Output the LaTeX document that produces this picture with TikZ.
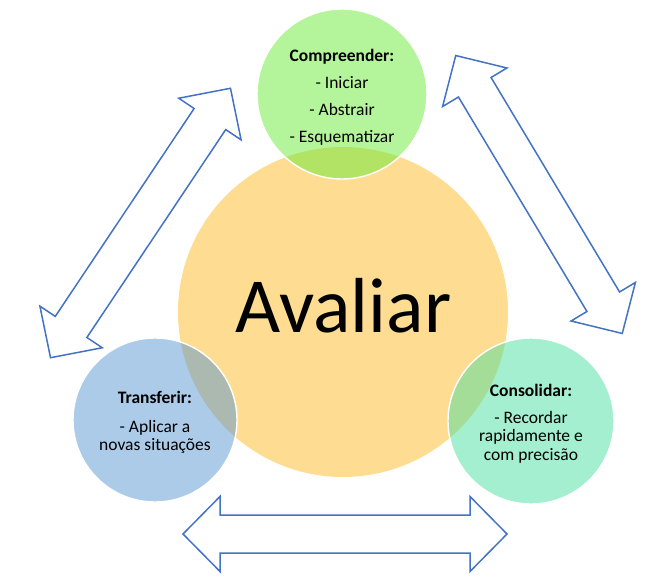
\documentclass[tikz,border=0pt]{standalone}
\usepackage{fontspec}
\setmainfont{Carlito}
\definecolor{orangefill}{RGB}{254,220,146}
\definecolor{greenbase}{RGB}{105,235,55}
\definecolor{bluebase}{RGB}{89,151,209}
\definecolor{tealbase}{RGB}{73,223,159}
\definecolor{arrowblue}{RGB}{68,114,196}
\tikzset{
  smallcirc/.style={circle, draw=white, line width=1.4pt, fill opacity=0.5, draw opacity=1, text opacity=1,
    align=center, inner sep=0pt, font=\fontsize{17.5}{18}\selectfont},
  blockarrow/.style={draw=arrowblue, fill=white, line width=1.5pt, line join=miter},
  pics/dblarrow/.style={code={
    \path[blockarrow] (-162,0) -- (-125,37.5) -- (-125,19) -- (125,19) -- (125,37.5) -- (162,0)
      -- (125,-37.5) -- (125,-19) -- (-125,-19) -- (-125,-37.5) -- cycle;
  }}
}
\begin{document}
\begin{tikzpicture}[x=1pt,y=1pt]
\useasboundingbox (0,0) rectangle (648,579);
% central circle
\node[circle, fill=orangefill, minimum size=330pt, inner sep=0pt] (aval) at (343,267) {};
\node[anchor=base, font=\fontsize{78}{80}\selectfont] (avaltext) at (343.5,246) {Avaliar};
% small circles
\node[smallcirc, fill=greenbase, minimum size=170pt] (comp) at (342,485)
  {\rule{0pt}{19pt}\textbf{Compreender:}\\[9pt] - Iniciar\\[9pt] - Abstrair\\[9pt] - Esquematizar};
\node[smallcirc, fill=bluebase, minimum size=164pt] (trans) at (155,159)
  {\rule{0pt}{17pt}\textbf{Transferir:}\\[11pt] - Aplicar a\\ novas situações};
\node[smallcirc, fill=tealbase, minimum size=166pt] (cons) at (531,158)
  {\rule{0pt}{17pt}\textbf{Consolidar:}\\[9pt] - Recordar\\[0.5pt] rapidamente e\\[0.5pt] com precisão};
% block arrows
\pic[rotate=56.26] at (140.5,356) {dblarrow};
\pic[rotate=-59.07] at (539,384.5) {dblarrow};
\pic at (345,45) {dblarrow};
\end{tikzpicture}
\end{document}
